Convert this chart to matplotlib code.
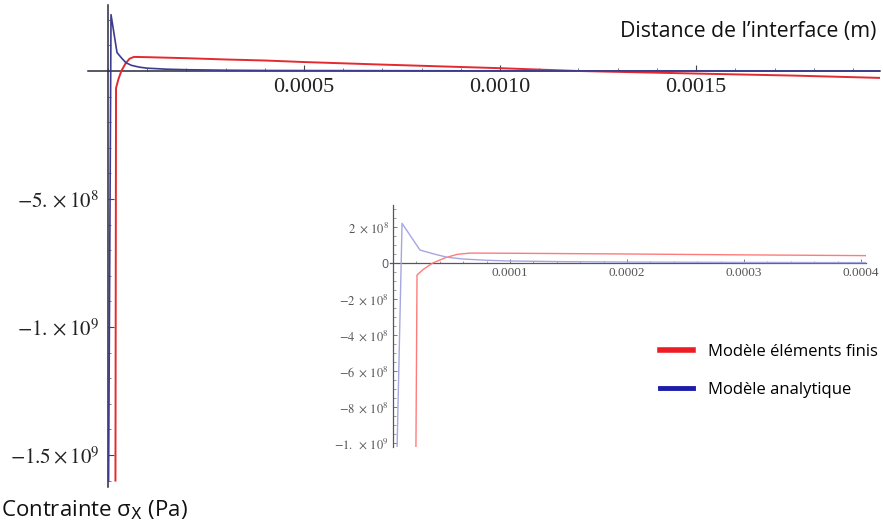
import matplotlib
matplotlib.use("Agg")
import matplotlib.pyplot as plt
from matplotlib.lines import Line2D
from matplotlib.ticker import FixedLocator, MultipleLocator

plt.rcParams['mathtext.fontset'] = 'stix'
plt.rcParams['font.family'] = ['Open Sans', 'DejaVu Sans']

# ---- data ----
fem_x = [1.9e-5, 2.05e-5, 2.6e-5, 3.4e-5, 4.5e-5, 5.5e-5, 6.6e-5, 1.0e-4, 2.0e-4,
         3.0e-4, 4.0e-4, 5.0e-4, 7.0e-4, 1.0e-3, 1.2e-3, 1.5e-3, 1.75e-3, 1.97e-3]
fem_y = [-1.6e9, -0.67e8, -0.35e8, 0.0, 0.3e8, 0.48e8, 0.55e8, 0.54e8, 0.5e8,
         0.45e8, 0.41e8, 0.35e8, 0.25e8, 0.11e8, 0.0, -0.1e8, -0.18e8, -0.27e8]
ana_x = [1.5e-6, 7.7e-6, 2.3e-5, 3.5e-5, 4.6e-5, 6.0e-5, 8.0e-5, 1.0e-4, 1.5e-4,
         2.0e-4, 3.0e-4, 4.0e-4, 1.0e-3, 1.97e-3]
ana_y = [-1.6e9, 2.2e8, 0.72e8, 0.5e8, 0.32e8, 0.22e8, 0.15e8, 0.11e8, 0.07e8,
         0.05e8, 0.03e8, 0.02e8, 0.005e8, 0.0]

main_xticks = [0.0005, 0.0010, 0.0015]
main_xlabels = ["0.0005", "0.0010", "0.0015"]
main_yticks = [-1.5e9, -1.0e9, -5e8]
main_ylabels = [r"$-1.5\times10^{9}$", r"$-1.\times10^{9}$", r"$-5.\times10^{8}$"]
ins_xticks = [0.0001, 0.0002, 0.0003, 0.0004]
ins_xlabels = ["0.0001", "0.0002", "0.0003", "0.0004"]
ins_yticks = [2e8, 0, -2e8, -4e8, -6e8, -8e8, -1e9]
ins_ylabels = [r"$2\ \times\,10^{8}$", "0", r"$-2\ \times\,10^{8}$", r"$-4\ \times\,10^{8}$",
               r"$-6\ \times\,10^{8}$", r"$-8\ \times\,10^{8}$", r"$-1.\ \times\,10^{9}$"]
legend_labels = ["Modèle éléments finis", "Modèle analytique"]

W, H = 883, 529
fig = plt.figure(figsize=(W / 100, H / 100), dpi=100)
fig.patch.set_facecolor('white')

def add_px_axes(x0, x1, yt, yb):
    return fig.add_axes([x0 / W, 1 - yb / H, (x1 - x0) / W, (yb - yt) / H])

def style_axes(ax, color, lw):
    for s in ['top', 'right']:
        ax.spines[s].set_visible(False)
    ax.spines['left'].set_position(('data', 0))
    ax.spines['bottom'].set_position(('data', 0))
    for s in ['left', 'bottom']:
        ax.spines[s].set_color(color)
        ax.spines[s].set_linewidth(lw)
    ax.patch.set_alpha(0)

# ---- main axes ----
ax = add_px_axes(88, 880, 5, 487)
ax.set_xlim(-5.1e-5, 1.969e-3)
ax.set_ylim(-1.625e9, 2.578e8)
style_axes(ax, '#2a2a3a', 1.1)
ax.plot(fem_x, fem_y, color='#e42a2e', lw=1.4, zorder=3)
ax.plot(ana_x, ana_y, color='#3c3c90', lw=1.2, zorder=3)
ax.xaxis.set_major_locator(FixedLocator(main_xticks))
ax.xaxis.set_minor_locator(MultipleLocator(0.0001))
ax.yaxis.set_major_locator(FixedLocator(main_yticks))
ax.yaxis.set_minor_locator(MultipleLocator(1e8))
ax.set_xticklabels(main_xlabels, family='Liberation Serif', fontsize=16, color='#222222')
ax.set_yticklabels(main_ylabels, fontsize=15, color='#222222')
ax.tick_params(axis='x', which='major', direction='in', length=4, width=0.8, color='#444444', pad=5)
ax.tick_params(axis='y', which='major', direction='in', length=4, width=0.8, color='#444444', pad=6)
ax.tick_params(which='minor', direction='in', length=2.5, width=0.6, color='#666666')

# ---- inset axes ----
ia = add_px_axes(390, 866, 205, 447)
ia.set_xlim(-2.6e-6, 4.043e-4)
ia.set_ylim(-1.022e9, 3.22e8)
style_axes(ia, '#555566', 0.9)
ia.plot(fem_x, fem_y, color='#ff7b7b', lw=1.0, zorder=3)
ia.plot(ana_x, ana_y, color='#a6a6e0', lw=1.0, zorder=3)
ia.xaxis.set_major_locator(FixedLocator(ins_xticks))
ia.xaxis.set_minor_locator(MultipleLocator(0.00002))
ia.yaxis.set_major_locator(FixedLocator(ins_yticks))
ia.yaxis.set_minor_locator(MultipleLocator(5e7))
ia.set_xticklabels(ins_xlabels, family='Liberation Serif', fontsize=9.5, color='#555555')
ia.set_yticklabels(ins_ylabels, fontsize=9, color='#555555')
ia.tick_params(which='major', direction='in', length=3, width=0.6, color='#666666', pad=3)
ia.tick_params(which='minor', direction='in', length=1.8, width=0.5, color='#777777')

# ---- texts ----
fig.text(876 / W, 1 - 31 / H, "Distance de l’interface (m)", ha='right', va='center',
         fontsize=15.3, color='#111111')
fig.text(1 / W, 1 - 510 / H, r"Contrainte σ$_{\mathsf{X}}$ (Pa)", ha='left', va='center',
         fontsize=16, color='#111111', math_fontfamily='dejavusans')

handles = [Line2D([], [], color='#ee1c24', lw=4), Line2D([], [], color='#1c1ca8', lw=3.5)]
fig.legend(handles, legend_labels, loc='upper left', bbox_to_anchor=(660 / W, 1 - 344 / H),
           frameon=False, fontsize=12, handlelength=2.0, handletextpad=0.85,
           labelspacing=1.3, borderpad=0, borderaxespad=0)

fig.savefig("out.png", dpi=100, facecolor='white')
